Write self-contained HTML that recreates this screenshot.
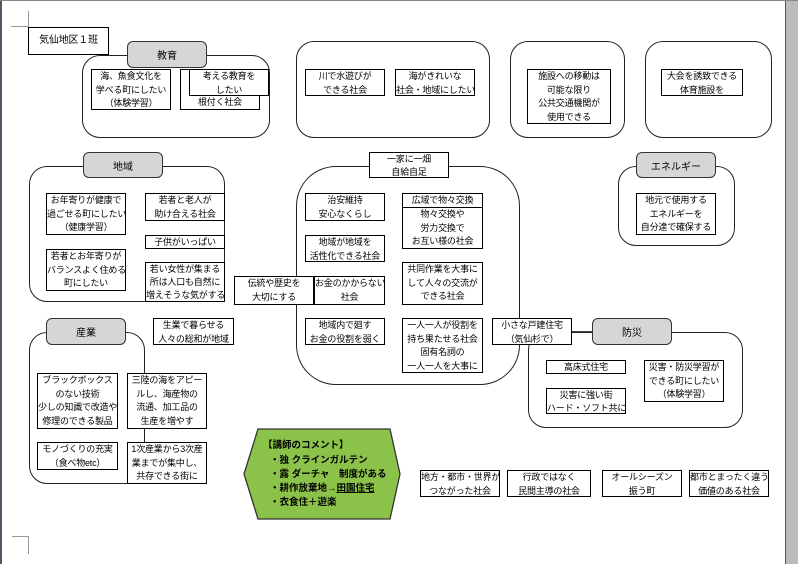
<!DOCTYPE html>
<html><head><meta charset="utf-8"><style>
body{margin:0;width:798px;height:564px;background:#fff;position:relative;overflow:hidden;font-family:"Liberation Sans","Noto Sans CJK JP",sans-serif;}
.g{position:absolute;border:1.3px solid #222;border-radius:18px;box-sizing:border-box;}
.t{position:absolute;background:#d6d6d6;border:1.3px solid #333;border-radius:6px;box-sizing:border-box;font-size:10px;display:flex;align-items:center;justify-content:center;}
.b{position:absolute;background:#fff;border:1px solid #000;box-sizing:border-box;font-size:9px;line-height:13.5px;text-align:center;white-space:nowrap;overflow:hidden;letter-spacing:-0.2px;}
.l{position:absolute;background:#444;}
</style></head><body>
<div class="l" style="left:0;top:0;width:2px;height:564px;background:#556"></div>
<div class="l" style="left:786px;top:0;width:12px;height:564px;background:#bbb"></div>
<div class="l" style="left:785px;top:0;width:1px;height:564px;background:#555"></div>
<div class="l" style="left:0;top:0;width:798px;height:1px;background:#888"></div>
<div class="l" style="left:28px;top:11px;width:1px;height:16px;background:#999"></div>
<div class="l" style="left:11px;top:26px;width:17px;height:1px;background:#999"></div>
<div class="l" style="left:28px;top:536px;width:1px;height:18px;background:#999"></div>
<div class="l" style="left:12px;top:536px;width:16px;height:1px;background:#999"></div>

<div class="b" style="left:28px;top:27px;width:81px;height:28px;line-height:26px;font-size:10px">気仙地区１班</div>

<div class="g" style="left:82px;top:55px;width:188px;height:83px"></div>
<div class="t" style="left:127px;top:41px;width:80px;height:27px">教育</div>
<div class="b" style="left:91px;top:69px;width:80px;height:41px">海、魚食文化を<br>学べる町にしたい<br>（体験学習）</div>
<div class="b" style="left:180px;top:69px;width:80px;height:41px;padding-top:26px">根付く社会</div>
<div class="b" style="left:189px;top:69px;width:80px;height:27px">考える教育を<br>したい</div>

<div class="g" style="left:296px;top:41px;width:194px;height:97px"></div>
<div class="b" style="left:305px;top:69px;width:80px;height:27px">川で水遊びが<br>できる社会</div>
<div class="b" style="left:395px;top:69px;width:80px;height:27px">海がきれいな<br>社会・地域にしたい</div>

<div class="g" style="left:510px;top:41px;width:115px;height:97px"></div>
<div class="b" style="left:527px;top:69px;width:84px;height:55px">施設への移動は<br>可能な限り<br>公共交通機関が<br>使用できる</div>

<div class="g" style="left:645px;top:41px;width:127px;height:97px"></div>
<div class="b" style="left:661px;top:69px;width:82px;height:27px">大会を誘致できる<br>体育施設を</div>

<div class="g" style="left:29px;top:166px;width:196px;height:136px"></div>
<div class="t" style="left:83px;top:152px;width:80px;height:26px">地域</div>
<div class="b" style="left:46px;top:193px;width:80px;height:42px">お年寄りが健康で<br>過ごせる町にしたい<br>（健康学習）</div>
<div class="b" style="left:145px;top:193px;width:80px;height:28px">若者と老人が<br>助け合える社会</div>
<div class="b" style="left:145px;top:235px;width:80px;height:14px;line-height:12px">子供がいっぱい</div>
<div class="b" style="left:46px;top:249px;width:80px;height:42px">若者とお年寄りが<br>バランスよく住める<br>町にしたい</div>
<div class="b" style="left:145px;top:262px;width:80px;height:40px;line-height:13px">若い女性が集まる<br>所は人口も自然に<br>増えそうな気がする</div>

<div class="g" style="left:296px;top:166px;width:224px;height:219px;border-radius:40px"></div>
<div class="b" style="left:369px;top:152px;width:80px;height:26px;line-height:12.5px">一家に一畑<br>自給自足</div>
<div class="b" style="left:305px;top:193px;width:80px;height:28px">治安維持<br>安心なくらし</div>
<div class="b" style="left:402px;top:193px;width:81px;height:15px;line-height:13px">広域で物々交換</div>
<div class="b" style="left:402px;top:207px;width:81px;height:42px">物々交換や<br>労力交換で<br>お互い様の社会</div>
<div class="b" style="left:305px;top:235px;width:80px;height:27px">地域が地域を<br>活性化できる社会</div>
<div class="b" style="left:314px;top:276px;width:71px;height:29px">お金のかからない<br>社会</div>
<div class="b" style="left:234px;top:276px;width:80px;height:29px">伝統や歴史を<br>大切にする</div>
<div class="b" style="left:402px;top:262px;width:81px;height:43px">共同作業を大事に<br>して人々の交流が<br>できる社会</div>
<div class="b" style="left:305px;top:318px;width:80px;height:27px">地域内で廻す<br>お金の役割を弱く</div>
<div class="b" style="left:402px;top:318px;width:81px;height:55px">一人一人が役割を<br>持ち果たせる社会<br>固有名詞の<br>一人一人を大事に</div>

<div class="g" style="left:618px;top:166px;width:117px;height:80px"></div>
<div class="t" style="left:636px;top:152px;width:80px;height:26px">エネルギー</div>
<div class="b" style="left:636px;top:193px;width:80px;height:42px">地元で使用する<br>エネルギーを<br>自分達で確保する</div>

<div class="g" style="left:528px;top:332px;width:215px;height:96px"></div>
<div class="l" style="left:572px;top:331px;width:20px;height:1px"></div>
<div class="t" style="left:592px;top:318px;width:80px;height:27px">防災</div>
<div class="b" style="left:492px;top:318px;width:80px;height:27px">小さな戸建住宅<br>（気仙杉で）</div>
<div class="b" style="left:546px;top:360px;width:80px;height:14px;line-height:12px">高床式住宅</div>
<div class="b" style="left:644px;top:360px;width:80px;height:42px">災害・防災学習が<br>できる町にしたい<br>（体験学習）</div>
<div class="b" style="left:546px;top:388px;width:80px;height:26px;line-height:12.5px">災害に強い街<br>ハード・ソフト共に</div>

<div class="g" style="left:29px;top:332px;width:116px;height:152px"></div>
<div class="t" style="left:46px;top:318px;width:80px;height:27px">産業</div>
<div class="b" style="left:153px;top:318px;width:81px;height:27px">生業で暮らせる<br>人々の総和が地域</div>
<div class="b" style="left:37px;top:373px;width:81px;height:56px">ブラックボックス<br>のない技術<br>少しの知識で改造や<br>修理のできる製品</div>
<div class="b" style="left:127px;top:373px;width:80px;height:56px">三陸の海をアピー<br>ルし、海産物の<br>流通、加工品の<br>生産を増やす</div>
<div class="b" style="left:37px;top:442px;width:81px;height:28px">モノづくりの充実<br>（食べ物etc）</div>
<div class="b" style="left:127px;top:442px;width:80px;height:42px">1次産業から3次産<br>業までが集中し、<br>共存できる街に</div>

<svg style="position:absolute;left:0;top:0" width="798" height="564">
<polygon points="258,429 390,429 400,474 390,519 258,519 244,474" fill="#8bc34a" stroke="#333" stroke-width="1.3"/>
<text x="263" y="448" font-size="9.5" font-weight="bold" font-family="Liberation Sans,Noto Sans CJK JP,sans-serif">【講師のコメント】</text>
<text x="270" y="463" font-size="9.5" font-weight="bold" font-family="Liberation Sans,Noto Sans CJK JP,sans-serif">・独 クラインガルテン</text>
<text x="270" y="477" font-size="9.5" font-weight="bold" font-family="Liberation Sans,Noto Sans CJK JP,sans-serif">・露 ダーチャ　制度がある</text>
<text x="270" y="491" font-size="9.5" font-weight="bold" font-family="Liberation Sans,Noto Sans CJK JP,sans-serif">・耕作放棄地→<tspan text-decoration="underline">田園住宅</tspan></text>
<text x="270" y="505" font-size="9.5" font-weight="bold" font-family="Liberation Sans,Noto Sans CJK JP,sans-serif">・衣食住＋遊楽</text>
</svg>

<div class="b" style="left:420px;top:470px;width:80px;height:27px">地方・都市・世界が<br>つながった社会</div>
<div class="b" style="left:507px;top:470px;width:84px;height:27px">行政ではなく<br>民間主導の社会</div>
<div class="b" style="left:602px;top:470px;width:80px;height:27px">オールシーズン<br>振う町</div>
<div class="b" style="left:689px;top:470px;width:80px;height:27px">都市とまったく違う<br>価値のある社会</div>
</body></html>
